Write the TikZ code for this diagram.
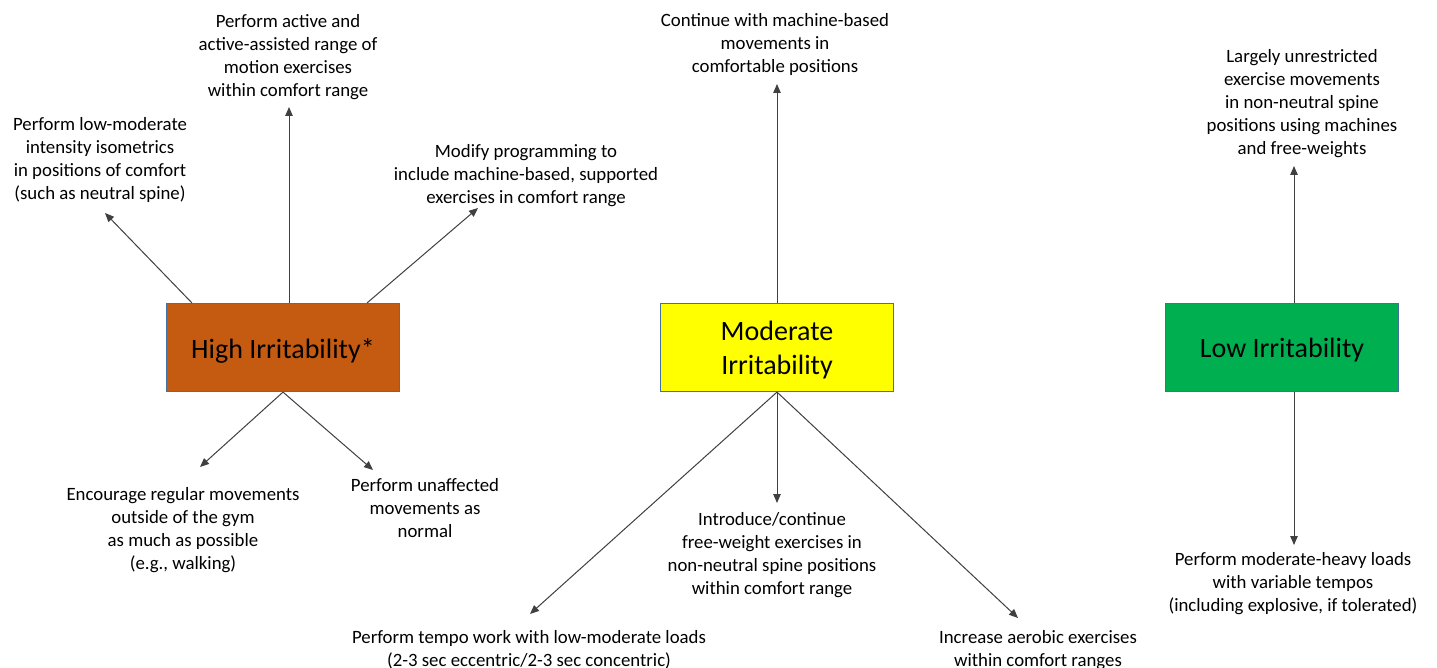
\documentclass[tikz,border=0pt]{standalone}
\usepackage{fontspec}
\setmainfont{Carlito}
\usetikzlibrary{arrows.meta}
\definecolor{hiC}{HTML}{C55A11}
\definecolor{moC}{HTML}{FFFF00}
\definecolor{loC}{HTML}{00B050}
\definecolor{bordC}{HTML}{41719C}
\definecolor{arrC}{HTML}{404040}
\tikzset{
  box/.style={draw=bordC, line width=1.2pt, minimum width=233pt, minimum height=88pt, inner sep=0pt, align=center, font=\fontsize{28}{34}\selectfont, text=black},
  lbl/.style={anchor=north, inner sep=0pt, align=center, font=\fontsize{18.8}{23}\selectfont, text=black},
  arr/.style={draw=arrC, line width=1pt, -{Triangle[length=9pt,width=7.5pt]}}
}
\newcommand{\lowerbox}[1]{\raisebox{-3pt}[\height][\depth]{#1}}
\begin{document}
\begin{tikzpicture}[x=1pt,y=-1pt]
\useasboundingbox[fill=white] (0,0) rectangle (1437,668);
% boxes
\node[box, fill=hiC] (hi) at (283,347.5) {\lowerbox{High Irritability*}};
\node[box, fill=moC] (mo) at (777,347.5) {\lowerbox{\begin{tabular}{@{}c@{}}Moderate\\Irritability\end{tabular}}};
\node[box, fill=loC] (lo) at (1282,347.5) {\lowerbox{Low Irritability}};
% labels
\node[lbl] (h1) at (100,113.8) {\strut Perform low-moderate\\intensity isometrics\\in positions of comfort\\(such as neutral spine)};
\node[lbl] (h2) at (288,10.8) {\strut Perform active and\\active-assisted range of\\motion exercises\\within comfort range};
\node[lbl] (h3) at (526,140.8) {\strut Modify programming to\\include machine-based, supported\\exercises in comfort range};
\node[lbl] (h4) at (183,483.8) {\strut Encourage regular movements\\outside of the gym\\as much as possible\\(e.g., walking)};
\node[lbl] (h5) at (425,474.8) {\strut Perform unaffected\\movements as\\normal};
\node[lbl] (m1) at (775,9.8) {\strut Continue with machine-based\\movements in\\comfortable positions};
\node[lbl] (m2) at (772,508.8) {\strut Introduce/continue\\free-weight exercises in\\non-neutral spine positions\\within comfort range};
\node[lbl] (m3) at (529,626.8) {\strut Perform tempo work with low-moderate loads\\(2-3 sec eccentric/2-3 sec concentric)};
\node[lbl] (m4) at (1038,626.8) {\strut Increase aerobic exercises\\within comfort ranges};
\node[lbl] (l1) at (1302,45.8) {\strut Largely unrestricted\\exercise movements\\in non-neutral spine\\positions using machines\\and free-weights};
\node[lbl] (l2) at (1293,548.8) {\strut Perform moderate-heavy loads\\with variable tempos\\(including explosive, if tolerated)};
% arrow end points
\coordinate (eh1) at (105,213);
\coordinate (eh2) at (289,107);
\coordinate (eh3) at (478,208);
\coordinate (eh4) at (200,467);
\coordinate (eh5) at (373,470);
\coordinate (em1) at (777,84);
\coordinate (em2) at (777,503);
\coordinate (em3) at (530,614);
\coordinate (em4) at (1018,618);
\coordinate (el1) at (1294,166);
\coordinate (el2) at (1294,545);
% arrows
\draw[arr] ([xshift=26pt]hi.north west) -- (eh1);
\draw[arr] ([xshift=6pt]hi.north) -- (eh2);
\draw[arr] ([xshift=-33pt]hi.north east) -- (eh3);
\draw[arr] (hi.south) -- (eh4);
\draw[arr] (hi.south) -- (eh5);
\draw[arr] (mo.north) -- (em1);
\draw[arr] (mo.south) -- (em2);
\draw[arr] (mo.south) -- (em3);
\draw[arr] (mo.south) -- (em4);
\draw[arr] ([xshift=12pt]lo.north) -- (el1);
\draw[arr] ([xshift=12pt]lo.south) -- (el2);
\end{tikzpicture}
\end{document}
